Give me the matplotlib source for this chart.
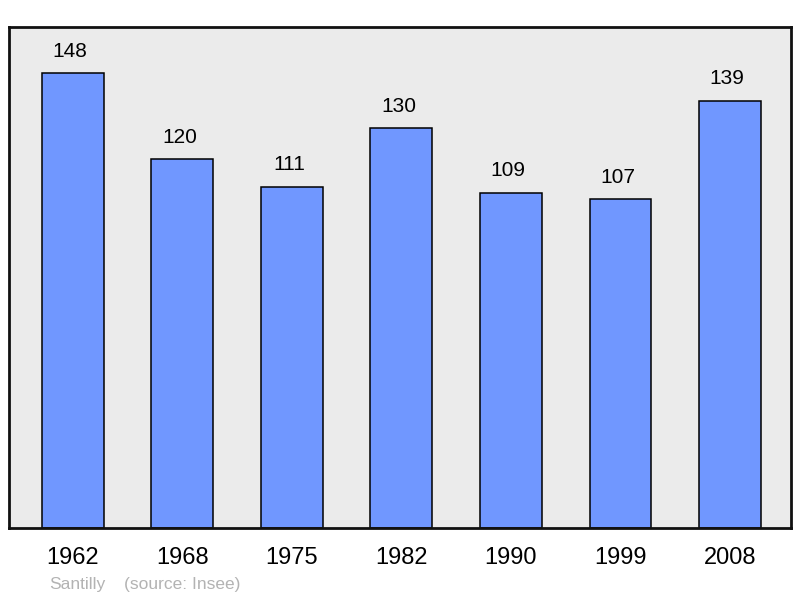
import matplotlib.pyplot as plt

years = ["1962", "1968", "1975", "1982", "1990", "1999", "2008"]
population = [148, 120, 111, 130, 109, 107, 139]

plt.rcParams['font.family'] = ['Liberation Sans', 'DejaVu Sans']

fig = plt.figure(figsize=(8, 5.98), dpi=100)
ax = fig.add_axes([9 / 800, 70 / 598, 782 / 800, 501 / 598])
ax.set_facecolor('#ebebeb')

x = list(range(len(years)))
ax.bar(x, population, width=0.566, color='#7097ff', edgecolor='black',
       linewidth=1.1, zorder=2)

for xi, v in zip(x, population):
    ax.annotate(str(v), (xi, v), xytext=(-2, 9), textcoords='offset points',
                ha='center', va='bottom', fontsize=15)

ax.set_xlim(-0.584, 6.557)
ax.set_ylim(0, 163)
ax.set_yticks([])
ax.set_xticks(x)
ax.set_xticklabels(years, fontsize=17)
ax.tick_params(axis='x', length=0, pad=14)
for s in ax.spines.values():
    s.set_linewidth(2)
    s.set_color('#111111')

fig.text(49 / 800, 1 - 584 / 598, "Santilly", color='#b3b3b3', fontsize=12.5, va='center')
fig.text(124 / 800, 1 - 584 / 598, "(source: Insee)", color='#b3b3b3', fontsize=12.5, va='center')

fig.savefig('out.png', dpi=100)
